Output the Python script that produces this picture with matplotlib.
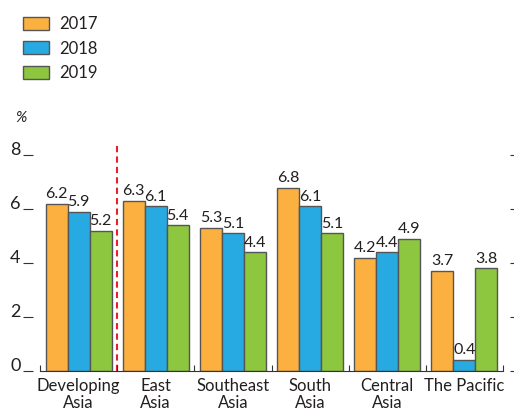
import matplotlib
matplotlib.use("Agg")
import matplotlib.pyplot as plt
from matplotlib.patches import Patch
import numpy as np

plt.rcParams['font.family'] = ['Lato', 'DejaVu Sans']

categories = ["Developing\nAsia", "East\nAsia", "Southeast\nAsia", "South\nAsia", "Central\nAsia", "The Pacific"]
years = ["2017", "2018", "2019"]
v2017 = [6.2, 6.3, 5.3, 6.8, 4.2, 3.7]
v2018 = [5.9, 6.1, 5.1, 6.1, 4.4, 0.4]
v2019 = [5.2, 5.4, 4.4, 5.1, 4.9, 3.8]
yticks = [0, 2, 4, 6, 8]

colors = ["#FBB040", "#27AAE1", "#8DC63F"]
edge = "#555555"
txt = "#231F20"

fig = plt.figure(figsize=(5.14, 4.2), dpi=100)
ax = fig.add_axes([40/514, 49/420, 463/514, 228/420])

x = np.arange(len(categories))
w = 0.285
for i, (vals, c) in enumerate(zip([v2017, v2018, v2019], colors)):
    bars = ax.bar(x + (i - 1) * w, vals, width=w, color=c, edgecolor=edge, linewidth=1.0, zorder=2)
    ax.bar_label(bars, labels=[f"{v:.1f}" for v in vals], padding=2, fontsize=11.5, color=txt)

ax.axvline(0.5, color="#E8202A", linestyle=(0, (3, 2)), linewidth=1.5, zorder=1)

ax.set_xlim(-0.5, 5.5)
ax.set_ylim(0, 8.45)
ax.set_yticks(yticks)
ax.set_yticklabels([str(t) for t in yticks])
ax.tick_params(axis='y', which='both', direction='out', length=7, width=0.8, color="#333333",
               left=True, right=True, labelleft=True, pad=2, labelsize=13, labelcolor=txt)
ax.spines['left'].set_position(('outward', 5))
ax.spines['right'].set_position(('outward', 5))
for s in ['left', 'right', 'top']:
    ax.spines[s].set_visible(False)
ax.spines['bottom'].set_color("#333333")
ax.spines['bottom'].set_linewidth(0.8)

ax.set_xticks(x)
ax.set_xticklabels(categories, fontsize=12, color=txt, linespacing=1.05)
ax.tick_params(axis='x', which='major', length=0, pad=5)
ax.set_xticks(np.arange(-0.5, 5.6, 1.0), minor=True)
ax.tick_params(axis='x', which='minor', direction='in', length=4, width=0.8, color="#333333")

handles = [Patch(facecolor=c, edgecolor=edge, linewidth=1.0, label=y) for c, y in zip(colors, years)]
fig.legend(handles=handles, loc='upper left', bbox_to_anchor=(0.015, 0.997), frameon=False,
           fontsize=12, handlelength=1.6, handleheight=0.85, handletextpad=0.6, labelspacing=0.5,
           labelcolor=txt)

fig.text(15/514, 1 - 118/420, "%", fontsize=11, style='italic', color=txt, va='center')

fig.canvas.draw()
for tk in ax.yaxis.get_major_ticks():
    tk.label1.set_verticalalignment('baseline')
    tk.label1.set_fontsize(13)

fig.savefig("out.png", dpi=100)
